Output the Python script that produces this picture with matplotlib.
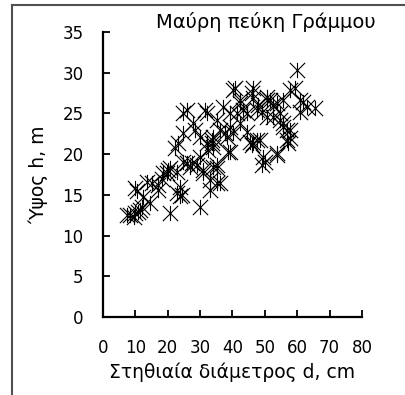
import matplotlib
matplotlib.use('Agg')
from matplotlib import pyplot as plt
from matplotlib.path import Path
from matplotlib.lines import Line2D

# diameter d (cm) and height h (m)
diameter = [7.5, 8.3, 9.5, 10.0, 10.8, 11.4, 12.0,
            9.9, 10.5, 12.3, 13.5, 14.5, 15.1, 17.0, 17.0, 18.2, 18.5, 19.7, 20.0, 20.7, 20.7,
            22.8, 23.8, 23.8, 24.4, 22.8, 22.2, 23.1, 24.7, 24.7, 25.9, 24.7, 25.9, 26.9, 27.5,
            29.0, 27.8, 28.4, 29.9, 29.9, 29.9, 30.9, 30.9, 32.1, 31.5, 32.4, 33.0, 33.0, 32.0,
            33.6, 33.6, 34.0, 34.0, 34.0, 35.2, 36.1, 35.2, 35.2, 35.2, 36.1, 37.0, 37.7, 38.3,
            38.6, 39.2, 39.2, 39.2, 40.1, 40.1, 40.7, 41.4, 42.3, 42.3, 42.3, 43.2, 44.4, 44.4,
            45.4, 46.0, 46.3, 46.0, 46.3, 46.3, 47.5, 47.5, 48.5, 49.0, 49.4, 50.0, 48.0, 49.0,
            50.6, 50.6, 50.6, 51.5, 52.5, 52.5, 53.7, 53.7, 53.7, 54.6, 54.6, 55.6, 55.6, 55.6,
            56.8, 56.8, 57.1, 57.7, 57.7, 57.7, 59.3, 59.9, 60.8, 60.8, 61.7, 63.0, 65.4]
height = [12.5, 12.5, 12.3, 12.8, 12.9, 13.1, 13.5,
          15.8, 15.5, 14.7, 16.6, 14.0, 16.5, 15.6, 16.2, 17.0, 17.7, 17.7, 18.1, 18.3, 12.8,
          15.2, 14.8, 16.0, 15.0, 17.8, 20.8, 21.4, 22.6, 25.0, 25.4, 19.0, 18.9, 18.4, 18.9,
          18.7, 23.8, 23.0, 22.1, 19.7, 13.5, 17.7, 18.1, 25.0, 25.4, 20.5, 15.6, 16.8, 21.4,
          21.4, 21.7, 20.9, 22.1, 18.4, 16.5, 16.5, 18.3, 18.7, 24.2, 23.0, 25.8, 22.6, 22.1,
          20.3, 20.3, 23.3, 25.0, 22.6, 27.9, 28.1, 25.0, 23.8, 26.3, 26.7, 25.4, 22.7, 25.0,
          21.5, 21.1, 21.4, 27.5, 26.9, 28.1, 21.7, 25.4, 21.7, 18.7, 19.7, 19.0, 26.0, 25.2,
          24.6, 26.7, 27.0, 26.7, 24.6, 26.0, 26.3, 19.9, 20.1, 24.2, 25.0, 23.3, 23.8, 26.7,
          23.0, 21.7, 21.4, 22.0, 23.0, 27.9, 28.1, 30.3, 25.2, 26.7, 26.4, 25.8, 25.7]

x_ticks = [0, 10, 20, 30, 40, 50, 60, 70, 80]
y_ticks = [0, 5, 10, 15, 20, 25, 30, 35]

# excel-like star: X with a vertical bar
star = Path([(-1, -1), (1, 1), (-1, 1), (1, -1), (0, -1), (0, 1)],
            [Path.MOVETO, Path.LINETO, Path.MOVETO, Path.LINETO, Path.MOVETO, Path.LINETO])

plt.rcParams['font.family'] = 'DejaVu Sans'
fig = plt.figure(figsize=(4.06, 3.95), dpi=100)
ax = fig.add_axes([0.2537, 0.1975, 0.6379, 0.7215])

ax.plot(diameter, height, linestyle='none', marker=star, markersize=11,
        markerfacecolor='none', markeredgecolor='black', markeredgewidth=0.8,
        clip_on=False)

ax.set_xlim(0, 80)
ax.set_ylim(0, 35)
ax.set_xticks(x_ticks)
ax.set_yticks(y_ticks)
ax.spines['top'].set_visible(False)
ax.spines['right'].set_visible(False)
ax.spines['left'].set_linewidth(1.6)
ax.spines['bottom'].set_linewidth(1.6)
ax.tick_params(direction='in', length=5, width=1.3, labelsize=12)
ax.tick_params(axis='x', pad=16)
ax.tick_params(axis='y', pad=14)

ax.set_xlabel('Στηθιαία διάμετρος d, cm', fontsize=13.5, labelpad=4)
ax.set_ylabel('Ύψος h, m', fontsize=13.5, labelpad=10)
fig.text(0.655, 0.944, 'Μαύρη πεύκη Γράμμου', fontsize=14, ha='center', va='center')

# frame edges left over from the crop
fig.add_artist(Line2D([12.5 / 406, 1], [1 - 5 / 395, 1 - 5 / 395], color='#505050', linewidth=1.5))
fig.add_artist(Line2D([12.5 / 406, 12.5 / 406], [0, 1 - 5 / 395], color='#505050', linewidth=1.5))

fig.savefig('out.png', dpi=100)
